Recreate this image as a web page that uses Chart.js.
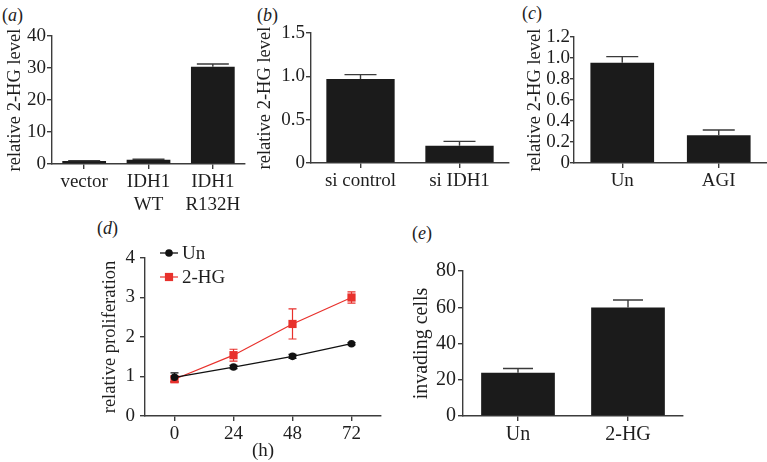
<!DOCTYPE html>
<html><head><meta charset="utf-8">
<script src="https://cdn.jsdelivr.net/npm/chart.js@4.4.0/dist/chart.umd.min.js"></script>
<style>
html,body{margin:0;padding:0;background:#fff;width:767px;height:462px;overflow:hidden;position:relative;}
canvas{position:absolute;}
.lbl{position:absolute;font-family:"Liberation Serif",serif;font-size:18px;color:#222;line-height:1;white-space:nowrap;}
.lbl i{font-style:italic;}
</style></head><body>
<div class="lbl" style="left:2px;top:6px">(<i>a</i>)</div>
<div class="lbl" style="left:257px;top:6px">(<i>b</i>)</div>
<div class="lbl" style="left:522px;top:4px">(<i>c</i>)</div>
<div class="lbl" style="left:97px;top:219px">(<i>d</i>)</div>
<div class="lbl" style="left:412px;top:224px">(<i>e</i>)</div>
<canvas id="ca"></canvas>
<canvas id="cb"></canvas>
<canvas id="cc"></canvas>
<canvas id="cd"></canvas>
<canvas id="ce"></canvas>
<script>
// ---- data ----
const aCategories = ['vector', ['IDH1', 'WT'], ['IDH1', 'R132H']];
const aValues = [0.95, 1.35, 30.4];
const aErrors = [0.1, 0.15, 0.85];
const aYTicks = [0, 10, 20, 30, 40];
const aYLabels = ['0', '10', '20', '30', '40'];

const bCategories = ['si control', 'si IDH1'];
const bValues = [0.97, 0.20];
const bErrors = [0.05, 0.05];
const bYTicks = [0, 0.5, 1.0, 1.5];
const bYLabels = ['0', '0.5', '1.0', '1.5'];

const cCategories = ['Un', 'AGI'];
const cValues = [0.955, 0.265];
const cErrors = [0.058, 0.05];
const cYTicks = [0, 0.2, 0.4, 0.6, 0.8, 1.0, 1.2];
const cYLabels = ['0', '0.2', '0.4', '0.6', '0.8', '1.0', '1.2'];

const dHours = [0, 24, 48, 72];
const dUn = [0.98, 1.24, 1.51, 1.83];
const dUnErr = [0.11, 0.04, 0.05, 0.03];
const d2HG = [0.93, 1.54, 2.33, 3.0];
const d2HGErr = [0.08, 0.15, 0.38, 0.14];
const dXTicks = [0, 24, 48, 72];
const dXLabels = ['0', '24', '48', '72'];
const dYTicks = [0, 1, 2, 3, 4];
const dYLabels = ['0', '1', '2', '3', '4'];

const eCategories = ['Un', '2-HG'];
const eValues = [23.8, 59.8];
const eErrors = [2.4, 4.2];
const eYTicks = [0, 20, 40, 60, 80];
const eYLabels = ['0', '20', '40', '60', '80'];

// ---- styling ----
const F = '"Liberation Serif", "Times New Roman", serif';
const AX = '#3c3c3c';
const TX = '#1e1e1e';
const BAR = '#1b1b1b';
const RED = '#e8312c';

const errorBars = {
  id: 'errorBars',
  draw(chart, before) {
    const ctx = chart.ctx, ys = chart.scales.y;
    chart.data.datasets.forEach((ds, di) => {
      if (!ds.errors || !!ds.errorsBefore !== before) return;
      const meta = chart.getDatasetMeta(di);
      ctx.save();
      ctx.strokeStyle = ds.errorColor;
      ctx.lineWidth = ds.errorWidth;
      meta.data.forEach((el, i) => {
        const v = ds.data[i];
        const val = typeof v === 'object' ? v.y : v;
        const e = ds.errors[i];
        const x = el.x;
        const yt = ys.getPixelForValue(val + e);
        const yb = ds.upOnly ? ys.getPixelForValue(val) : ys.getPixelForValue(val - e);
        const cw = ds.capWidth / 2;
        ctx.beginPath();
        ctx.moveTo(x, yt); ctx.lineTo(x, yb);
        ctx.moveTo(x - cw, yt); ctx.lineTo(x + cw, yt);
        if (!ds.upOnly) { ctx.moveTo(x - cw, yb); ctx.lineTo(x + cw, yb); }
        ctx.stroke();
      });
      ctx.restore();
    });
  },
  beforeDatasetsDraw(chart) { this.draw(chart, true); },
  afterDatasetsDraw(chart) { this.draw(chart, false); }
};

function place(id, g) {
  const c = document.getElementById(id);
  c.width = g.W; c.height = g.H;
  c.style.left = g.L + 'px'; c.style.top = g.T + 'px';
  c.style.width = g.W + 'px'; c.style.height = g.H + 'px';
  return c;
}

function yScale(ticksArr, labelsArr, title, g, fs) {
  return {
    min: ticksArr[0], max: ticksArr[ticksArr.length - 1],
    afterBuildTicks(s) { s.ticks = ticksArr.map(v => ({ value: v })); },
    grid: { drawOnChartArea: false, drawTicks: true, tickLength: g.tl || 5, color: AX, lineWidth: 1.4 },
    border: { display: true, color: AX, width: 1.4 },
    ticks: { callback: (v, i) => labelsArr[i], font: { family: F, size: fs }, color: TX, padding: g.yp, autoSkip: false },
    title: { display: true, text: title, font: { family: F, size: g.tfs, lineHeight: 1.2 }, color: TX, padding: { top: g.tp, bottom: 0 } },
    afterFit(s) { s.width = g.yw; }
  };
}

function barChart(id, g, cats, vals, errs, yT, yL, title) {
  const c = place(id, g);
  return new Chart(c, {
    type: 'bar',
    data: { labels: cats, datasets: [{ data: vals, errors: errs, upOnly: true, errorColor: '#3a3a3a', errorWidth: 1.4, capWidth: g.cap,
      backgroundColor: BAR, borderWidth: 0, barPercentage: g.bp, categoryPercentage: 1 }] },
    options: {
      responsive: false, animation: false, devicePixelRatio: 1,
      layout: { padding: { left: 0, right: g.pr, top: g.pt, bottom: g.pb } },
      plugins: { legend: { display: false }, tooltip: { enabled: false }, title: { display: false } },
      scales: {
        x: {
          grid: { display: true, offset: false, drawOnChartArea: false, drawTicks: true, tickLength: 5, color: AX, lineWidth: 1.4 },
          border: { display: true, color: AX, width: 1.4 },
          ticks: { font: { family: F, size: g.fs, lineHeight: 1.2 }, color: TX, padding: 2, maxRotation: 0, autoSkip: false },
          afterFit(s) { s.height = g.xh; }
        },
        y: yScale(yT, yL, title, g, g.fs)
      }
    },
    plugins: [errorBars]
  });
}

barChart('ca', { L: 0, T: 0, W: 250, H: 222, yw: 52, pr: 5, pt: 36, pb: 6, xh: 52, tp: 4, yp: 1, fs: 19, tfs: 18.5, bp: 0.68, cap: 32 },
  aCategories, aValues, aErrors, aYTicks, aYLabels, 'relative 2-HG level');
barChart('cb', { L: 250, T: 0, W: 260, H: 215, yw: 61, pr: 1, pt: 33, pb: 7, xh: 45, tp: 4, yp: 1, fs: 19, tfs: 18.5, bp: 0.69, cap: 32 },
  bCategories, bValues, bErrors, bYTicks, bYLabels, 'relative 2-HG level');
barChart('cc', { L: 510, T: 0, W: 257, H: 215, yw: 64, pr: 0, pt: 37, pb: 7, xh: 45, tp: 14, yp: 0, tl: 4, fs: 19, tfs: 18.5, bp: 0.66, cap: 32 },
  cCategories, cValues, cErrors, cYTicks, cYLabels, 'relative 2-HG level');
barChart('ce', { L: 390, T: 220, W: 310, H: 242, yw: 73, pr: 17, pt: 51, pb: 0, xh: 46, tp: 20, yp: 2, fs: 20, tfs: 20, bp: 0.67, cap: 30 },
  eCategories, eValues, eErrors, eYTicks, eYLabels, 'invading cells');

// ---- line panel (d) ----
const lineLegend = {
  id: 'lineLegend',
  afterDraw(chart, args, o) {
    const ctx = chart.ctx;
    chart.data.datasets.forEach((ds, i) => {
      const y = o.y + i * o.gap, x0 = o.x;
      ctx.save();
      ctx.strokeStyle = ds.borderColor; ctx.lineWidth = ds.borderWidth;
      ctx.beginPath(); ctx.moveTo(x0, y); ctx.lineTo(x0 + o.len, y); ctx.stroke();
      ctx.fillStyle = ds.backgroundColor;
      const cx = x0 + o.len / 2;
      if (ds.pointStyle === 'rect') {
        const s = ds.pointRadius * Math.SQRT1_2;
        ctx.fillRect(cx - s, y - s, 2 * s, 2 * s);
      } else {
        ctx.beginPath(); ctx.arc(cx, y, ds.pointRadius, 0, Math.PI * 2); ctx.fill();
      }
      ctx.fillStyle = TX;
      ctx.font = o.size + 'px ' + F;
      ctx.textBaseline = 'middle';
      ctx.fillText(ds.label, x0 + o.len + 4, y + 1);
      ctx.restore();
    });
  }
};

(function () {
  const g = { L: 90, T: 220, W: 300, H: 242, yw: 55, pr: 9, pt: 38, pb: 0, xh: 46, tp: 9, yp: 5, fs: 19, tfs: 18.5 };
  const c = place('cd', g);
  new Chart(c, {
    type: 'line',
    data: {
      datasets: [
        { label: 'Un', data: dHours.map((h, i) => ({ x: h, y: dUn[i] })), errors: dUnErr, errorsBefore: true,
          errorColor: '#111', errorWidth: 1.2, capWidth: 8,
          borderColor: '#111', backgroundColor: '#111', borderWidth: 1.3, pointStyle: 'circle', pointRadius: 3.8, pointBorderWidth: 0 },
        { label: '2-HG', data: dHours.map((h, i) => ({ x: h, y: d2HG[i] })), errors: d2HGErr, errorsBefore: true,
          errorColor: RED, errorWidth: 1.2, capWidth: 8,
          borderColor: RED, backgroundColor: RED, borderWidth: 1.2, pointStyle: 'rect', pointRadius: 5.8, pointBorderWidth: 0 }
      ]
    },
    options: {
      responsive: false, animation: false, devicePixelRatio: 1,
      layout: { padding: { left: 0, right: g.pr, top: g.pt, bottom: g.pb } },
      plugins: { legend: { display: false }, tooltip: { enabled: false },
        lineLegend: { x: 70, y: 33, gap: 24, len: 18, size: 19 } },
      scales: {
        x: {
          type: 'linear', min: -12, max: 84,
          afterBuildTicks(s) { s.ticks = dXTicks.map(v => ({ value: v })); },
          grid: { drawOnChartArea: false, drawTicks: true, tickLength: 5, color: AX, lineWidth: 1.4 },
          border: { display: true, color: AX, width: 1.4 },
          ticks: { callback: (v, i) => dXLabels[i], font: { family: F, size: g.fs }, color: TX, padding: 2, maxRotation: 0, autoSkip: false },
          title: { display: true, text: '(h)', font: { family: F, size: 19, lineHeight: 1.2 }, color: TX, padding: { top: 0, bottom: 0 } },
          afterFit(s) { s.height = g.xh; }
        },
        y: yScale(dYTicks, dYLabels, 'relative proliferation', g, g.fs)
      }
    },
    plugins: [errorBars, lineLegend]
  });
})();
</script>
</body></html>
